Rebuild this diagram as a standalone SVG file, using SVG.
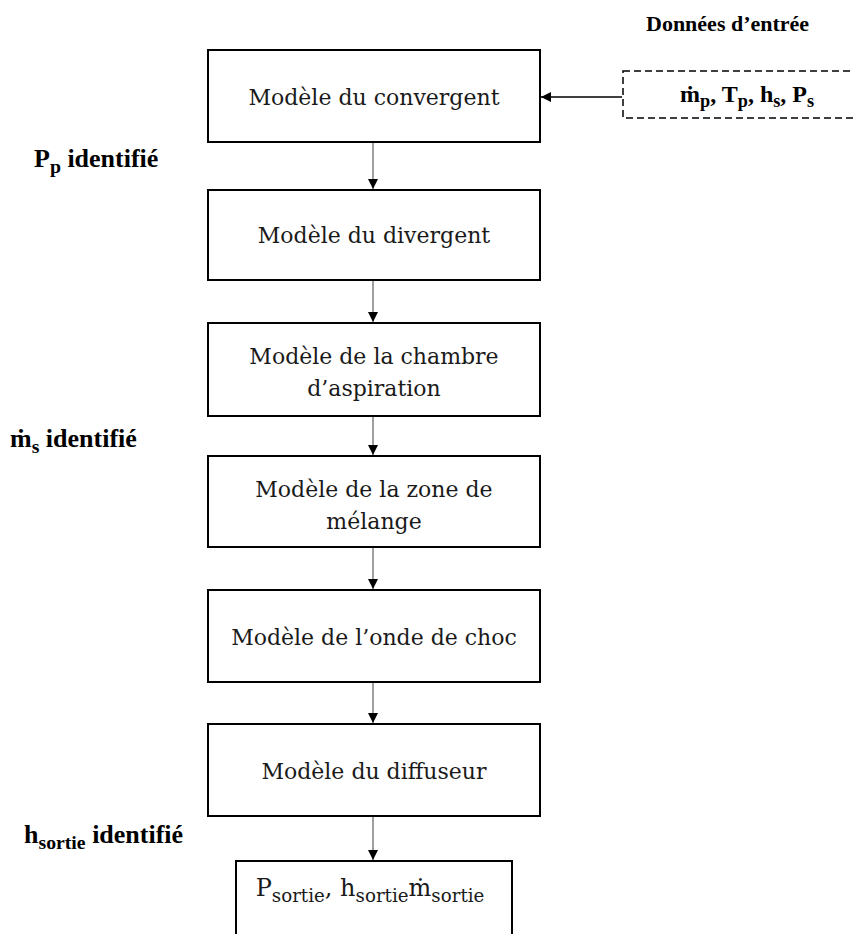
<svg xmlns="http://www.w3.org/2000/svg" width="853" height="934" viewBox="0 0 853 934">
<style>
.box{fill:#fff;stroke:#000;stroke-width:2}
.dash{fill:#fff;stroke:#000;stroke-width:1.5;stroke-dasharray:7,4}
.t{font-family:"DejaVu Serif","Liberation Serif",serif;font-size:22px;fill:#1a1a1a;text-anchor:middle}
.b{font-family:"Liberation Serif",serif;font-weight:bold;font-size:22px;fill:#000}
.side{font-size:26px}
.in{font-size:24px}
.sub{font-size:76%}
.conn{stroke:#808080;stroke-width:1.5;fill:none}
.connb{stroke:#000;stroke-width:1.5;fill:none}
</style>
<defs>
<marker id="ah" viewBox="0 0 10 10" refX="10" refY="5" markerWidth="10" markerHeight="10" markerUnits="userSpaceOnUse" orient="auto">
<path d="M0,0 L10,5 L0,10 z" fill="#000"/>
</marker>
</defs>
<text class="b" x="646" y="31">Données d’entrée</text>
<text class="b side" x="34" y="167">P<tspan class="sub" dy="6">p</tspan><tspan dy="-6"> identifié</tspan></text>
<text class="b side" x="10" y="447">ṁ<tspan class="sub" dy="6">s</tspan><tspan dy="-6"> identifié</tspan></text>
<text class="b side" x="24" y="843">h<tspan class="sub" dy="6">sortie</tspan><tspan dy="-6"> identifié</tspan></text>
<g id="connectors">
<line class="connb" x1="622" y1="97" x2="541" y2="97" marker-end="url(#ah)"/>
<line class="conn" x1="373" y1="142" x2="373" y2="189" marker-end="url(#ah)"/>
<line class="conn" x1="373" y1="281" x2="373" y2="322" marker-end="url(#ah)"/>
<line class="conn" x1="373" y1="417" x2="373" y2="455" marker-end="url(#ah)"/>
<line class="conn" x1="373" y1="548" x2="373" y2="589" marker-end="url(#ah)"/>
<line class="conn" x1="373" y1="683" x2="373" y2="723" marker-end="url(#ah)"/>
<line class="conn" x1="373" y1="817" x2="373" y2="860" marker-end="url(#ah)"/>
</g>
<g id="input">
<rect class="dash" x="623" y="71" width="240" height="47"/>
<text class="b in" x="680" y="102">ṁ<tspan class="sub" dy="5">p</tspan><tspan dy="-5">, T</tspan><tspan class="sub" dy="5">p</tspan><tspan dy="-5">, h</tspan><tspan class="sub" dy="5">s</tspan><tspan dy="-5">, P</tspan><tspan class="sub" dy="5">s</tspan></text>
</g>
<g id="n1"><rect class="box" x="208" y="50" width="332" height="92"/><text class="t" x="374" y="105">Modèle du convergent</text></g>
<g id="n2"><rect class="box" x="208" y="190" width="332" height="90"/><text class="t" x="374" y="243">Modèle du divergent</text></g>
<g id="n3"><rect class="box" x="208" y="323" width="332" height="93"/><text class="t" x="374" y="364">Modèle de la chambre</text><text class="t" x="374" y="396">d’aspiration</text></g>
<g id="n4"><rect class="box" x="208" y="456" width="332" height="91"/><text class="t" x="374" y="497">Modèle de la zone de</text><text class="t" x="374" y="529">mélange</text></g>
<g id="n5"><rect class="box" x="208" y="590" width="332" height="92"/><text class="t" x="374" y="645">Modèle de l’onde de choc</text></g>
<g id="n6"><rect class="box" x="208" y="724" width="332" height="92"/><text class="t" x="374" y="779">Modèle du diffuseur</text></g>
<g id="n7"><rect class="box" x="236" y="861" width="276" height="90"/><text class="t" x="370" y="896" style="font-size:24px">P<tspan class="sub" dy="6">sortie</tspan><tspan dy="-6">, h</tspan><tspan class="sub" dy="6">sortie</tspan><tspan dy="-6">ṁ</tspan><tspan class="sub" dy="6">sortie</tspan></text></g>
</svg>
